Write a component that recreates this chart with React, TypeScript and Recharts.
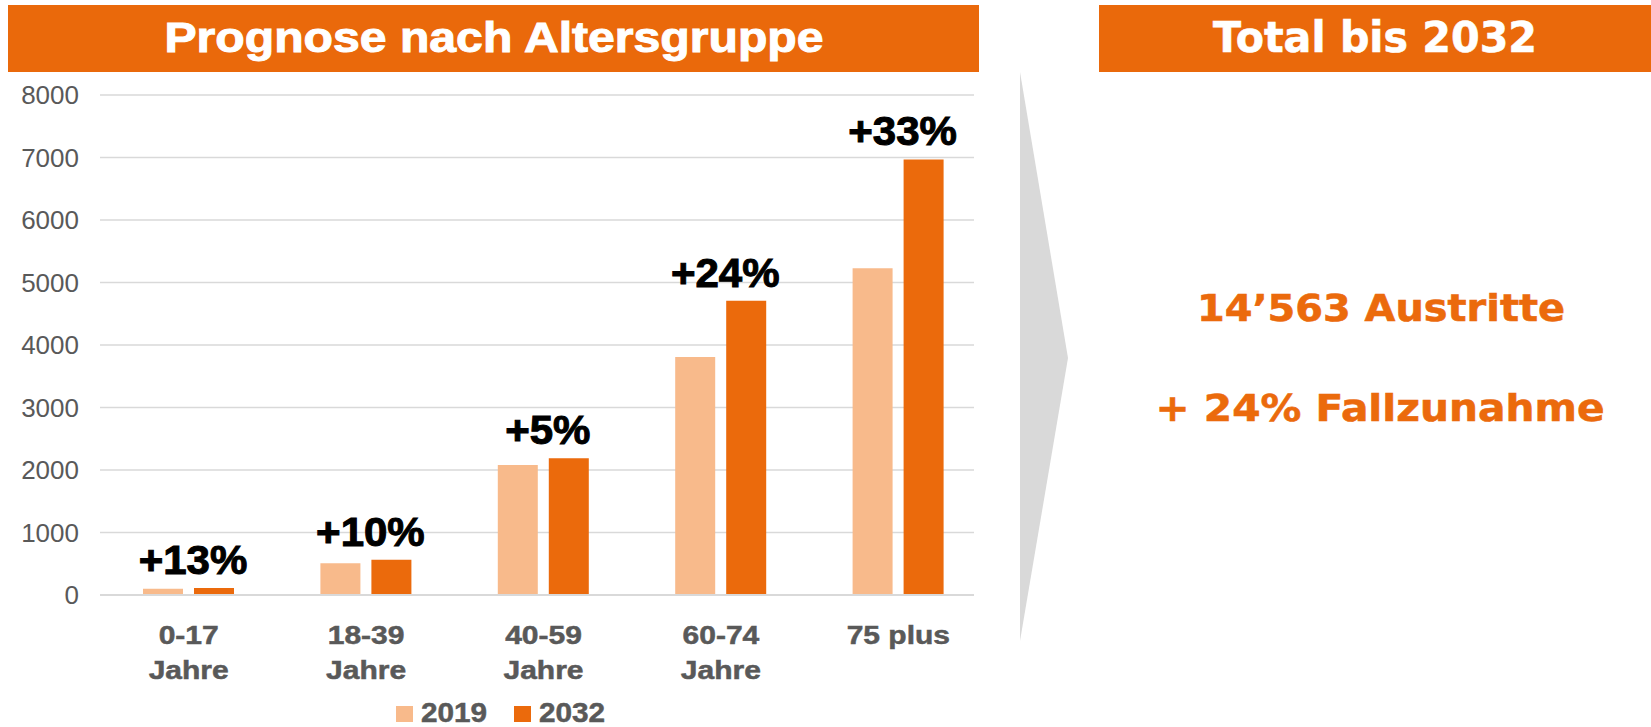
import { BarChart, Bar, XAxis, YAxis, CartesianGrid, Legend, LabelList } from "recharts";

const categories = ["0-17", "18-39", "40-59", "60-74", "75 plus"];
const subLabels = ["Jahre", "Jahre", "Jahre", "Jahre", ""];
const values2019 = [100, 510, 2080, 3810, 5230];
const values2032 = [113, 565, 2190, 4710, 6970];
const growth = ["+13%", "+10%", "+5%", "+24%", "+33%"];
const yTicks = [0, 1000, 2000, 3000, 4000, 5000, 6000, 7000, 8000];

const LIGHT = "#F8BA8B";
const DARK = "#EB6A0C";
const ORANGE = "#EA690B";
const GREY_TEXT = "#595959";

const data = categories.map((name, i) => ({
  name,
  y2019: values2019[i],
  y2032: values2032[i],
  growth: growth[i],
}));

// text drawn a bit wider and heavier, like the original slide
function Wide({ x, y, size, anchor = "middle", fill = GREY_TEXT, sx = 1.15, sw = 0.5, children }: any) {
  return (
    <text
      transform={`translate(${x},${y}) scale(${sx},1)`}
      textAnchor={anchor}
      fontFamily="'Liberation Sans', Arial, sans-serif"
      fontWeight="bold"
      fontSize={size}
      fill={fill}
      stroke={fill}
      strokeWidth={sw}
    >
      {children}
    </text>
  );
}

function YTick({ x, y, payload }: any) {
  return (
    <text
      x={x}
      y={y + 9}
      textAnchor="end"
      fontFamily="'Liberation Sans', Arial, sans-serif"
      fontSize={26}
      fill={GREY_TEXT}
    >
      {payload.value}
    </text>
  );
}

function XTick({ x, y, payload, index }: any) {
  return (
    <g>
      <Wide x={x} y={y + 41} size={25} sx={1.2}>
        {payload.value}
      </Wide>
      {subLabels[index] ? (
        <Wide x={x} y={y + 76} size={25} sx={1.2}>
          {subLabels[index]}
        </Wide>
      ) : null}
    </g>
  );
}

function GrowthLabel({ x, y, value }: any) {
  return (
    <Wide x={x - 1} y={y - 14} size={40} fill="#000" sx={1.05} sw={1}>
      {value}
    </Wide>
  );
}

function LegendBox() {
  return (
    <svg width={215} height={26} style={{ display: "block", overflow: "visible" }}>
      <rect x={0} y={8} width={17} height={16} fill={LIGHT} />
      <Wide x={25} y={24} size={27} anchor="start" sx={1.1}>
        2019
      </Wide>
      <rect x={118} y={8} width={17} height={16} fill={DARK} />
      <Wide x={143} y={24} size={27} anchor="start" sx={1.1}>
        2032
      </Wide>
    </svg>
  );
}

export default function App() {
  return (
    <div style={{ position: "relative", width: 1651, height: 727, background: "#fff", overflow: "hidden" }}>
      <style>{"body{margin:0}"}</style>
      <div style={{ position: "absolute", left: 0, top: 0 }}>
        <BarChart
          width={1000}
          height={727}
          data={data}
          margin={{ top: 95, right: 26, left: 0, bottom: 0 }}
          barSize={40}
          barGap={11}
        >
          <CartesianGrid vertical={false} stroke="#D9D9D9" strokeWidth={1.5} />
          <XAxis
            dataKey="name"
            height={106}
            tickLine={false}
            axisLine={{ stroke: "#D9D9D9", strokeWidth: 2 }}
            tick={<XTick />}
            interval={0}
            padding={{ left: 0, right: -13 }}
          />
          <YAxis
            width={100}
            domain={[0, 8000]}
            ticks={yTicks}
            axisLine={false}
            tickLine={false}
            tickMargin={15}
            tick={<YTick />}
          />
          <Legend
            verticalAlign="bottom"
            content={<LegendBox />}
            wrapperStyle={{ left: 396, bottom: 3, width: 215 }}
          />
          <Bar dataKey="y2019" name="2019" fill={LIGHT} isAnimationActive={false} />
          <Bar dataKey="y2032" name="2032" fill={DARK} isAnimationActive={false}>
            <LabelList dataKey="growth" content={<GrowthLabel />} />
          </Bar>
        </BarChart>
      </div>
      <svg
        width={1651}
        height={727}
        style={{ position: "absolute", left: 0, top: 0, pointerEvents: "none" }}
      >
        <rect x={8} y={5} width={971} height={67} fill={ORANGE} />
        <text
          x={494}
          y={52}
          textAnchor="middle"
          fontFamily="'Liberation Sans', Arial, sans-serif"
          fontWeight="bold"
          fontSize={43}
          fill="#fff"
          stroke="#fff"
          strokeWidth={1}
          textLength={659}
          lengthAdjust="spacingAndGlyphs"
        >
          Prognose nach Altersgruppe
        </text>
        <rect x={1099} y={5} width={552} height={67} fill={ORANGE} />
        <text
          x={1375}
          y={52}
          textAnchor="middle"
          fontFamily="'DejaVu Sans', sans-serif"
          fontWeight="bold"
          fontSize={43}
          fill="#fff"
          stroke="#fff"
          strokeWidth={0.6}
          textLength={324}
          lengthAdjust="spacingAndGlyphs"
        >
          Total bis 2032
        </text>
        <polygon points="1020,72 1068,358 1020,641" fill="#D9D9D9" />
        <text
          x={1381}
          y={321}
          textAnchor="middle"
          fontFamily="'DejaVu Sans', sans-serif"
          fontWeight="bold"
          fontSize={38}
          fill={DARK}
          stroke={DARK}
          strokeWidth={0.6}
          textLength={368}
          lengthAdjust="spacingAndGlyphs"
        >
          14’563 Austritte
        </text>
        <text
          x={1380}
          y={421}
          textAnchor="middle"
          fontFamily="'DejaVu Sans', sans-serif"
          fontWeight="bold"
          fontSize={38}
          fill={DARK}
          stroke={DARK}
          strokeWidth={0.6}
          textLength={449}
          lengthAdjust="spacingAndGlyphs"
        >
          + 24% Fallzunahme
        </text>
      </svg>
    </div>
  );
}
